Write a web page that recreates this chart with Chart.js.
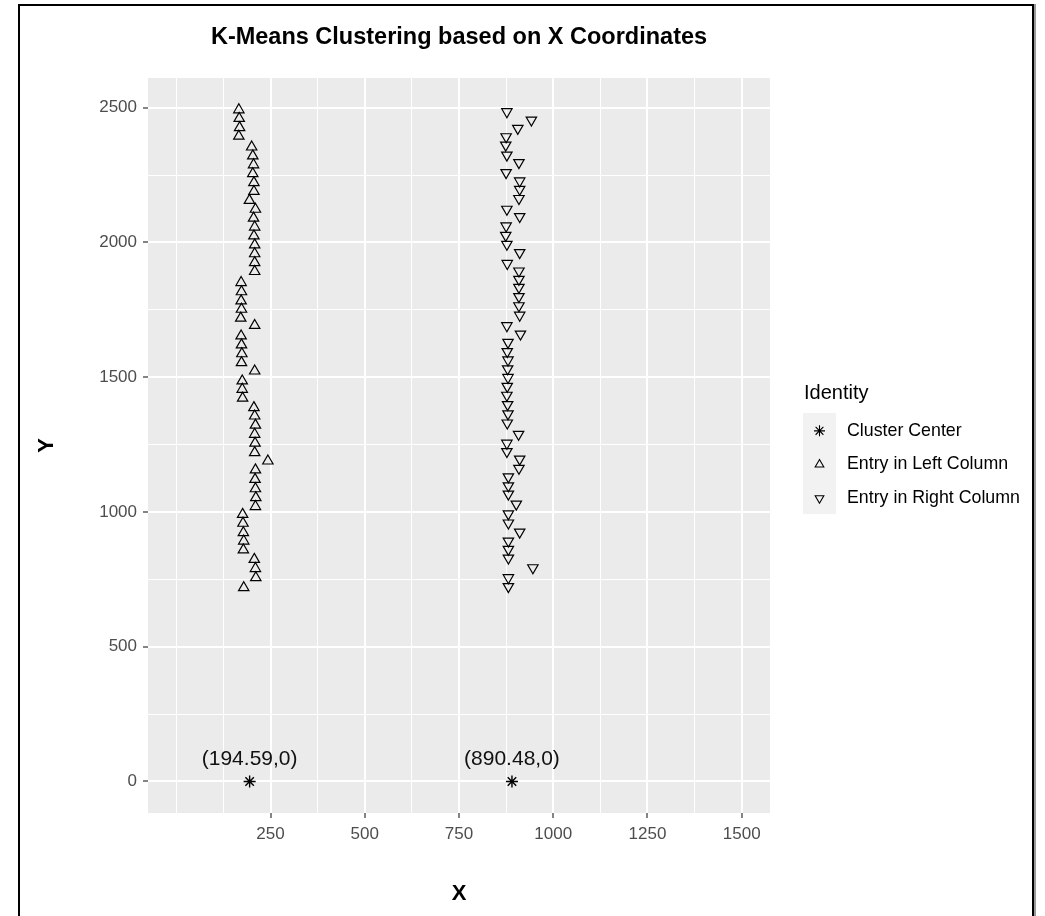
<!DOCTYPE html>
<html>
<head>
<meta charset="utf-8">
<title>K-Means Clustering based on X Coordinates</title>
<script src="https://cdn.jsdelivr.net/npm/chart.js@4.4.1/dist/chart.umd.min.js"></script>
<style>
  html, body { margin: 0; padding: 0; background: #fff; overflow: hidden; }
  #wrap { position: absolute; left: 0; top: 0; width: 1045px; height: 916px; overflow: hidden; }
  #frame { position: absolute; left: 18px; top: 4px; width: 1012px; height: 980px; border: 2px solid #000; box-shadow: 2px 0 0 #9a9a9a; }
  canvas { position: absolute; left: 0; top: 0; }
</style>
</head>
<body>
<div id="wrap">
  <div id="frame"></div>
  <canvas id="kmeansChart" width="1045" height="916"></canvas>
</div>
<script>
// entries of the left column (x, y)
const leftX = [166, 167, 168, 166,
  200, 203, 205, 203, 206, 206, 194, 210, 205, 208, 206, 208, 208, 208, 208,
  172, 173, 172, 173, 171,
  208,
  172, 173, 174, 173,
  208,
  175, 175, 176,
  206, 208, 210, 208, 209, 208,
  243,
  210, 209, 210, 211, 210,
  176, 177, 178, 179, 178,
  207, 210, 211,
  179];
const leftY = [2492, 2460, 2426, 2394,
  2354, 2321, 2288, 2255, 2222, 2189, 2156, 2123, 2090, 2057, 2024, 1991, 1958, 1925, 1892,
  1851, 1817, 1783, 1752, 1719,
  1692,
  1653, 1620, 1587, 1554,
  1523,
  1486, 1455, 1422,
  1387, 1356, 1322, 1288, 1255, 1220,
  1189,
  1156, 1121, 1086, 1053, 1020,
  991, 958, 923, 892, 859,
  824, 790, 756,
  719];

// entries of the right column (x, y)
const rightX = [877, 942, 906, 875, 874, 877, 909, 875, 911, 911, 909, 877, 911, 875, 874, 877, 911, 878,
  909, 909, 909, 909, 909, 911, 877, 913, 880,
  878, 880, 879, 880, 878, 877, 879, 880, 878,
  908, 877, 877, 911, 909, 881, 881, 881, 902, 881, 881, 911, 881, 881, 881, 946, 881, 881];
const rightY = [2485, 2454, 2423, 2392, 2361, 2324, 2296, 2259, 2228, 2197, 2163, 2123, 2096, 2061, 2026, 1993, 1962, 1922,
  1894, 1863, 1833, 1799, 1765, 1730, 1691, 1660, 1629,
  1595, 1564, 1531, 1499, 1466, 1433, 1398, 1364, 1330,
  1288, 1255, 1224, 1196, 1162, 1130, 1097, 1066, 1029, 993, 959, 925, 892, 861, 829, 793, 756, 723];

// cluster centres
const centerX = [194.59, 890.48];
const centerY = [0, 0];
const centerLabels = ['(194.59,0)', '(890.48,0)'];

// axis breaks: grid lines and labelled (major) breaks
const xBreaks = [0, 125, 250, 375, 500, 625, 750, 875, 1000, 1125, 1250, 1375, 1500];
const xLabels = [250, 500, 750, 1000, 1250, 1500];
const yBreaks = [0, 250, 500, 750, 1000, 1250, 1500, 1750, 2000, 2250, 2500];
const yLabels = [0, 500, 1000, 1500, 2000, 2500];

const FONT = '"Liberation Sans", Arial, Helvetica, sans-serif';

function toPoints(xs, ys) {
  return xs.map((x, i) => ({ x: x, y: ys[i] }));
}

// grey panel behind the grid
const panelBg = {
  id: 'panelBg',
  beforeDraw(chart) {
    const { ctx, chartArea: a } = chart;
    ctx.save();
    ctx.fillStyle = '#EBEBEB';
    ctx.fillRect(a.left, a.top, a.width, a.height);
    ctx.restore();
  }
};

// text labels above cluster centres
const centerText = {
  id: 'centerText',
  afterDatasetsDraw(chart) {
    const { ctx, scales } = chart;
    ctx.save();
    ctx.fillStyle = '#111';
    ctx.font = '21px ' + FONT;
    ctx.textAlign = 'center';
    ctx.textBaseline = 'middle';
    centerLabels.forEach((t, i) => {
      ctx.fillText(t, scales.x.getPixelForValue(centerX[i]), scales.y.getPixelForValue(centerY[i]) - 22);
    });
    ctx.restore();
  }
};

// ggplot style legend at the right
const sideLegend = {
  id: 'sideLegend',
  afterDraw(chart) {
    const ctx = chart.ctx;
    const a = chart.chartArea;
    const left = a.right + 33;
    const keyW = 33, keyH = 33.7, keyTop = 413;
    ctx.save();
    ctx.fillStyle = '#000';
    ctx.font = '20px ' + FONT;
    ctx.textAlign = 'left';
    ctx.textBaseline = 'middle';
    ctx.fillText('Identity', left + 1, 393);

    const sets = chart.data.datasets;
    ctx.fillStyle = '#F2F2F2';
    ctx.fillRect(left, keyTop, keyW, keyH * sets.length);

    sets.forEach((ds, i) => {
      const cy = keyTop + keyH * (i + 0.5) + 1;
      ctx.strokeStyle = '#000';
      ctx.fillStyle = 'rgba(0,0,0,0)';
      ctx.lineWidth = 1.1;
      Chart.helpers.drawPoint(ctx, {
        pointStyle: ds.pointStyle,
        rotation: ds.pointRotation || 0,
        radius: ds.pointStyle === 'star' ? 5.5 : 5,
        borderWidth: 1.1
      }, left + keyW / 2, cy);
      ctx.fillStyle = '#000';
      ctx.font = '17.8px ' + FONT;
      ctx.fillText(ds.label, left + 44, cy);
    });
    ctx.restore();
  }
};

const isMajorX = v => xLabels.includes(v);
const isMajorY = v => yLabels.includes(v);

new Chart(document.getElementById('kmeansChart'), {
  type: 'scatter',
  data: {
    datasets: [{
      label: 'Cluster Center',
      data: toPoints(centerX, centerY),
      pointStyle: 'star',
      pointRadius: 6,
      pointBorderWidth: 1.4,
      borderColor: '#000',
      backgroundColor: 'rgba(0,0,0,0)'
    }, {
      label: 'Entry in Left Column',
      data: toPoints(leftX, leftY),
      pointStyle: 'triangle',
      pointRadius: 6,
      pointBorderWidth: 1.2,
      borderColor: '#000',
      backgroundColor: 'rgba(0,0,0,0)'
    }, {
      label: 'Entry in Right Column',
      data: toPoints(rightX, rightY),
      pointStyle: 'triangle',
      pointRotation: 180,
      pointRadius: 6,
      pointBorderWidth: 1.2,
      borderColor: '#000',
      backgroundColor: 'rgba(0,0,0,0)'
    }]
  },
  options: {
    responsive: false,
    animation: false,
    devicePixelRatio: 1,
    events: [],
    layout: { padding: { left: 0, right: 275, top: 0, bottom: 0 } },
    plugins: {
      legend: { display: false },
      tooltip: { enabled: false },
      title: {
        display: true,
        text: 'K-Means Clustering based on X Coordinates',
        fullSize: false,
        color: '#000',
        font: { family: FONT, size: 23.5, weight: 'bold' },
        padding: { top: 23, bottom: 26.8 }
      }
    },
    scales: {
      x: {
        type: 'linear',
        min: -75,
        max: 1575,
        afterBuildTicks: s => { s.ticks = xBreaks.map(v => ({ value: v })); },
        afterFit: s => { s.height = 103; },
        border: { display: false },
        grid: {
          color: '#FFFFFF',
          lineWidth: c => (c.tick && isMajorX(c.tick.value)) ? 2 : 1,
          tickLength: 5,
          tickWidth: 1.2,
          tickColor: c => (c.tick && isMajorX(c.tick.value)) ? '#333333' : 'rgba(0,0,0,0)'
        },
        ticks: {
          autoSkip: false,
          maxRotation: 0,
          padding: 6,
          color: '#4D4D4D',
          font: { family: FONT, size: 17 },
          callback: v => isMajorX(v) ? String(v) : ''
        },
        title: {
          display: true,
          text: 'X',
          color: '#000',
          font: { family: FONT, size: 22, weight: 'bold' },
          padding: { top: 0, bottom: 9 }
        }
      },
      y: {
        type: 'linear',
        min: -117,
        max: 2610,
        afterBuildTicks: s => { s.ticks = yBreaks.map(v => ({ value: v })); },
        afterFit: s => { s.width = 148; },
        border: { display: false },
        grid: {
          color: '#FFFFFF',
          lineWidth: c => (c.tick && isMajorY(c.tick.value)) ? 2 : 1,
          tickLength: 5,
          tickWidth: 1.2,
          tickColor: c => (c.tick && isMajorY(c.tick.value)) ? '#333333' : 'rgba(0,0,0,0)'
        },
        ticks: {
          autoSkip: false,
          padding: 6,
          color: '#4D4D4D',
          font: { family: FONT, size: 17 },
          callback: v => isMajorY(v) ? String(v) : ''
        },
        title: {
          display: true,
          text: 'Y',
          color: '#000',
          font: { family: FONT, size: 22, weight: 'bold' },
          padding: { top: 34, bottom: 0 }
        }
      }
    }
  },
  plugins: [panelBg, centerText, sideLegend]
});
</script>
</body>
</html>
